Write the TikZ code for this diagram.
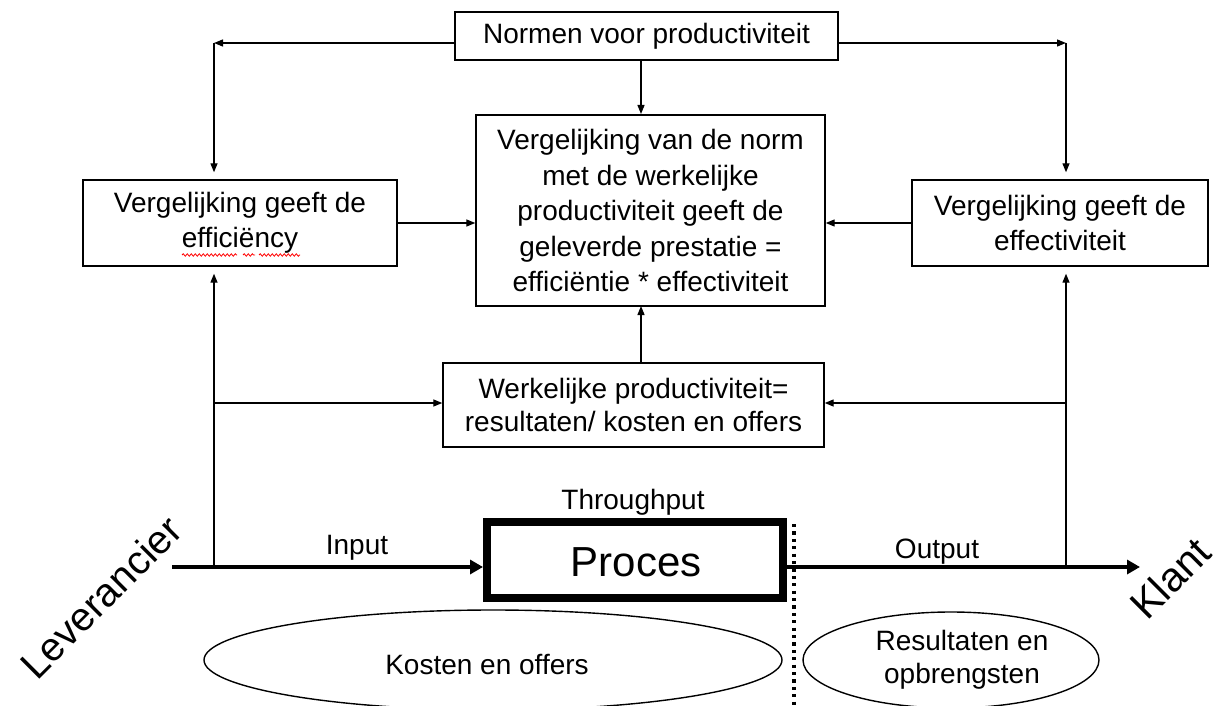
\documentclass[tikz,border=0pt]{standalone}
\usepackage{fontspec}
\setmainfont{Liberation Sans}
\usetikzlibrary{arrows.meta,shapes.geometric,decorations.pathmorphing}
\begin{document}
\begin{tikzpicture}[x=1pt,y=-1pt,
  txt/.style={font=\fontsize{28}{35.5}\selectfont, align=center, inner sep=0pt},
  boxn/.style={txt, draw, line width=1.4pt},
  thinarr/.style={line width=1.3pt, -{Triangle[length=9pt,width=7pt]}},
  thickarr/.style={line width=4.5pt, -{Triangle[length=13pt,width=14pt]}},
  ell/.style={txt, draw, ellipse, line width=1.4pt},
  big/.style={inner sep=0pt, font=\fontsize{40}{44}\selectfont, rotate=45}
]
\useasboundingbox (0,0) rectangle (1221,706);
% boxes
\node[boxn, minimum width=383pt, minimum height=48pt] (normen) at (646.5,36) {Normen voor productiviteit};
\node[boxn, minimum width=349pt, minimum height=191pt] (central) at (650.5,210.5)
  {Vergelijking van de norm\\met de werkelijke\\productiviteit geeft de\\geleverde prestatie =\\efficiëntie * effectiviteit};
\node[boxn, minimum width=314pt, minimum height=86pt] (eff) at (240,223) {Vergelijking geeft de\\efficiëncy};
\node[boxn, minimum width=296pt, minimum height=86pt] (effect) at (1060,223) {Vergelijking geeft de\\effectiviteit};
\node[boxn, minimum width=381pt, minimum height=84pt, font=\fontsize{28}{33}\selectfont] (werk) at (633.5,405)
  {Werkelijke productiviteit=\\resultaten/ kosten en offers};
\node[draw, line width=8pt, minimum width=296pt, minimum height=76pt, inner sep=0pt] (proces) at (635,560) {};
\node[inner sep=0pt, font=\fontsize{42}{46}\selectfont] (procestxt) at (636,562) {Proces};
% spell-check underline
\draw[red, line width=0.8pt, decorate, decoration={snake, segment length=4pt, amplitude=1.2pt}] (182,255) -- (237,255);
\draw[red, line width=0.8pt, decorate, decoration={snake, segment length=4pt, amplitude=1.2pt}] (243,255) -- (255,255);
\draw[red, line width=0.8pt, decorate, decoration={snake, segment length=4pt, amplitude=1.2pt}] (259,255) -- (300,255);
% ellipses
\node[ell, minimum width=578pt, minimum height=100pt] (kosten) at (493,660) {};
\node[txt] (kostentxt) at (487,665) {Kosten en offers};
\node[ell, minimum width=296pt, minimum height=96pt] (result) at (951,660) {};
\node[txt, font=\fontsize{28}{33}\selectfont] (resulttxt) at (962,660) {Resultaten en\\opbrengsten};
% labels
\node[txt, anchor=base] (input) at (357,554) {Input};
\node[txt, anchor=base] (output) at (937,558) {Output};
\node[txt, anchor=base] (through) at (633,509) {Throughput};
\node[big] (lev) at (101,597) {Leverancier};
\node[big, font=\fontsize{41}{44}\selectfont] (klant) at (1170,578) {Klant};
% coordinates
\coordinate (nl) at (214,43);
\coordinate (nr) at (1066,43);
\coordinate (start) at (172,567);
\coordinate (end) at (1140,567);
\coordinate (li) at (214,567);
\coordinate (ri) at (1066,567);
\coordinate (lb) at (214,403);
\coordinate (rb) at (1066,403);
\coordinate (dtop) at (794,524);
\coordinate (dbot) at (794,706);
% thin connectors
\draw[thinarr] (normen.west |- nl) -- (nl);
\draw[thinarr, shorten >=7pt] (nl) -- (nl |- eff.north);
\draw[thinarr] (normen.east |- nr) -- (nr);
\draw[thinarr, shorten >=7pt] (nr) -- (nr |- effect.north);
\draw[thinarr, shorten >=1pt] (641,60) -- (641,115);
\draw[thinarr] (eff.east) -- (central.west |- eff.east);
\draw[thinarr] (effect.west) -- (central.east |- effect.west);
\draw[thinarr] (werk.north -| 641,0) -- (641,306);
\draw[thinarr, shorten >=7pt] (li) -- (li |- eff.south);
\draw[thinarr, shorten >=7pt] (ri) -- (ri |- effect.south);
\draw[thinarr] (lb) -- (werk.west |- lb);
\draw[thinarr] (rb) -- (werk.east |- rb);
% thick main line
\draw[thickarr] (start) -- (proces.west |- start);
\draw[thickarr] (proces.east |- end) -- (end);
% dotted separator
\draw[line width=3.2pt, dash pattern=on 3.2pt off 4.2pt] (dtop) -- (dbot);
\end{tikzpicture}
\end{document}
